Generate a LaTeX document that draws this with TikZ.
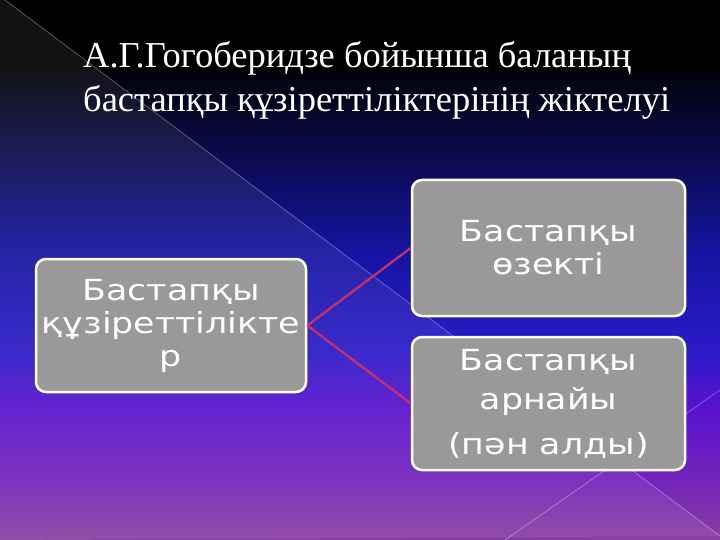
\documentclass[tikz,border=0pt]{standalone}
\usepackage{fontspec}
\setmainfont{Liberation Serif}
\newfontfamily\boxfont{DejaVu Sans}
\definecolor{bgA}{HTML}{000000}
\definecolor{bgB}{HTML}{0A0A48}
\definecolor{bgC}{HTML}{1414A0}
\definecolor{bgD}{HTML}{2A1AC8}
\definecolor{bgE}{HTML}{5A12CE}
\definecolor{bgF}{HTML}{7424BA}
\definecolor{bgG}{HTML}{8A40A0}
\definecolor{boxgray}{HTML}{999999}
\definecolor{linkred}{HTML}{C8306A}
\pgfdeclareverticalshading{slidebg}{100bp}{%
  color(0bp)=(bgG);
  color(25bp)=(bgG);
  color(30.56bp)=(bgF);
  color(37.04bp)=(bgE);
  color(42.59bp)=(bgD);
  color(51.85bp)=(bgC);
  color(61.11bp)=(bgB);
  color(69.44bp)=(bgA);
  color(100bp)=(bgA)}
\newcommand{\widetxt}[1]{\scalebox{1.2}[1]{#1}}
\begin{document}
\begin{tikzpicture}[x=1pt,y=-1pt,
  cbox/.style={draw=white,line width=2.5pt,fill=boxgray,rounded corners=10pt,
    text=white,font=\boxfont\fontsize{29}{33}\selectfont,align=center,inner sep=0pt},
  link/.style={draw=linkred,line width=2.3pt},
  ttl/.style={anchor=base west,text=white,font=\fontsize{36.5}{44}\selectfont,inner sep=0pt},
  deco/.style={draw=white,opacity=0.35,line width=0.7pt}]
\useasboundingbox (0,0) rectangle (720,540);
\fill[shading=slidebg] (0,0) rectangle (720,540);
\fill[white,opacity=0.07] (5,0) -- (720,536) -- (0,540) -- (0,0) -- cycle;
\draw[deco] (5,0) -- (720,536);
\draw[deco] (720,390) -- (505,540);
\node[ttl] (title1) at (83,68) {А.Г.Гогоберидзе бойынша баланың};
\node[ttl] (title2) at (83,112) {бастапқы құзіреттіліктерінің жіктелуі};
\node[cbox,minimum width=270pt,minimum height=133pt] (src) at (171,325.5)
  {\widetxt{Бастапқы}\\\widetxt{құзіреттілікте}\\\widetxt{р}};
\node[cbox,minimum width=273pt,minimum height=136pt] (top) at (548.5,248)
  {\widetxt{Бастапқы}\\\widetxt{өзекті}};
\node[cbox,minimum width=273pt,minimum height=133pt] (bot) at (548.5,403.5)
  {\widetxt{Бастапқы}\\[6pt]\widetxt{арнайы}\\[12pt]\widetxt{(пән алды)}};
\draw[link] (src.east) -- (top.west);
\draw[link] (src.east) -- (bot.west);
\end{tikzpicture}
\end{document}
